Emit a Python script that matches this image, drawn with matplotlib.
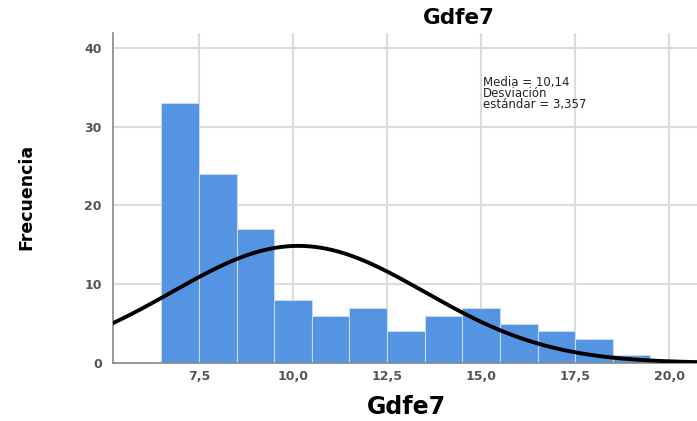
import numpy as np
import matplotlib
matplotlib.use("Agg")
import matplotlib.pyplot as plt
from matplotlib import font_manager

bin_centers = [7, 8, 9, 10, 11, 12, 13, 14, 15, 16, 17, 18, 19]
counts = [33, 24, 17, 8, 6, 7, 4, 6, 7, 5, 4, 3, 1]
mean_val = 10.14
std_val = 3.357
x_ticks = [7.5, 10.0, 12.5, 15.0, 17.5, 20.0]
x_tick_labels = ["7,5", "10,0", "12,5", "15,0", "17,5", "20,0"]
y_ticks = [0, 10, 20, 30, 40]

names = {f.name for f in font_manager.fontManager.ttflist}
narrow = [n for n in ["Liberation Sans Narrow", "DejaVu Sans Condensed"] if n in names]
ylab_family = narrow + ["DejaVu Sans"]

fig = plt.figure(figsize=(6.97, 4.21), dpi=100)
ax = fig.add_axes([0.162, 0.138, 0.838, 0.784])

ax.set_axisbelow(True)
ax.grid(True, color="#dcdcdc", linewidth=1.5)
ax.bar(bin_centers, counts, width=1.0, color="#5593e3", edgecolor="#c5daf5",
       linewidth=0.8, zorder=2)

n = sum(counts)
xs = np.linspace(5.2, 20.8, 400)
ys = n * 1.0 / (std_val * np.sqrt(2 * np.pi)) * np.exp(-0.5 * ((xs - mean_val) / std_val) ** 2)
ax.plot(xs, ys, color="black", linewidth=2.8, zorder=3)

ax.set_xlim(5.21, 20.74)
ax.set_ylim(0, 41.9)
ax.set_xticks(x_ticks)
ax.set_xticklabels(x_tick_labels)
ax.set_yticks(y_ticks)
ax.tick_params(length=0, labelsize=9, colors="#555555")
ax.tick_params(axis="x", pad=5)
ax.tick_params(axis="y", pad=8)
for lab in ax.get_xticklabels() + ax.get_yticklabels():
    lab.set_fontweight("bold")
for s in ["top", "right"]:
    ax.spines[s].set_visible(False)
for s in ["left", "bottom"]:
    ax.spines[s].set_color("#888888")
    ax.spines[s].set_linewidth(1.2)

fig.text(459 / 697, 1 - 18 / 421, "Gdfe7", ha="center", va="center", fontsize=15.5, fontweight="bold")
fig.text(406 / 697, 1 - 407 / 421, "Gdfe7", ha="center", va="center", fontsize=17, fontweight="bold")
fig.text(26 / 697, 1 - 197 / 421, "Frecuencia", ha="center", va="center", rotation=90, fontsize=12.5,
         fontweight="bold", family=ylab_family)
ax.text(15.05, 36.4, "Media = 10,14\nDesviación\nestándar = 3,357", fontsize=8.5,
        va="top", ha="left", linespacing=0.8, color="#222222")

fig.savefig("out.png", dpi=100)
